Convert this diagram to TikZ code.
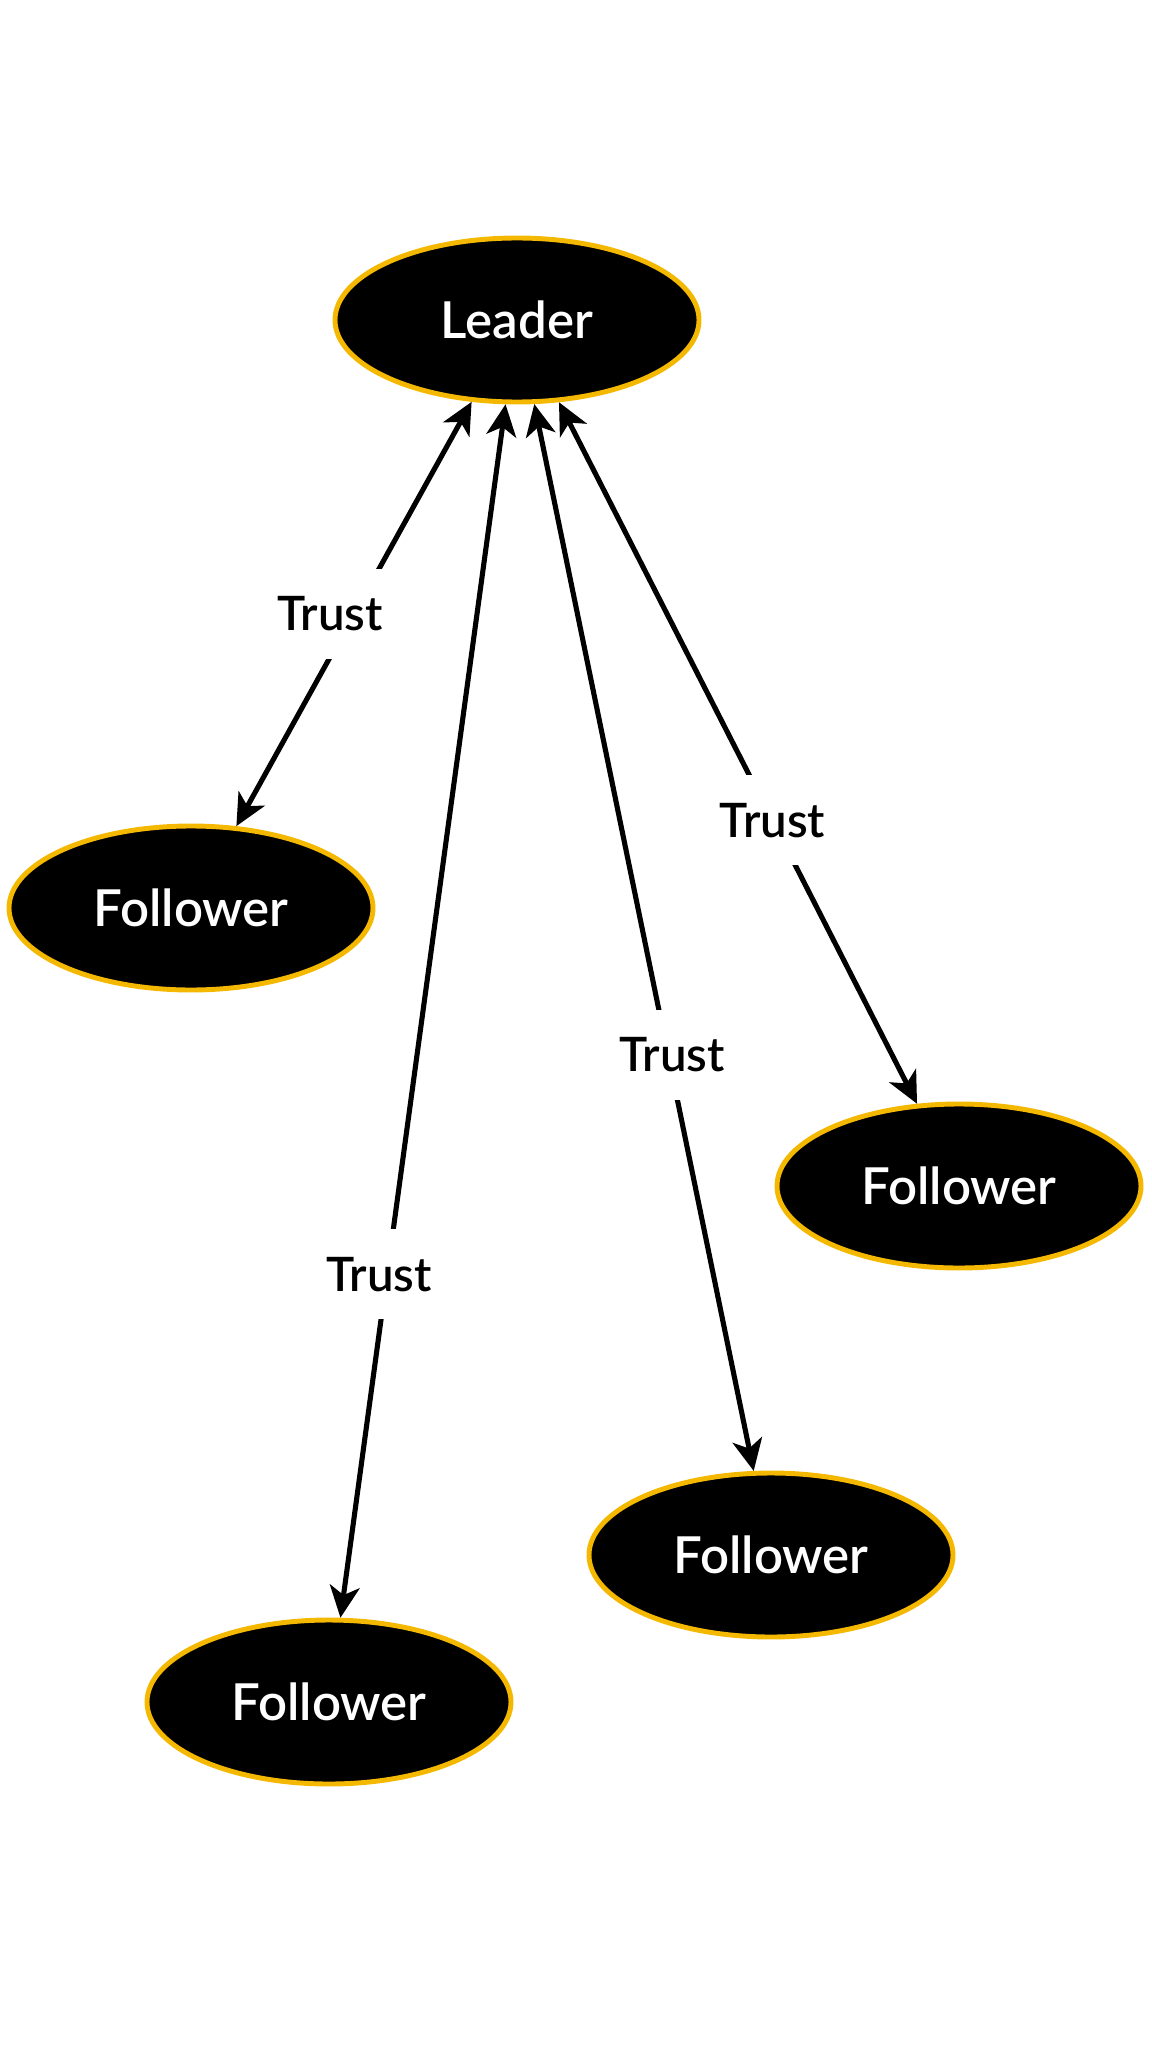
\documentclass[tikz,border=0pt]{standalone}
\usepackage{fontspec}
\IfFontExistsTF{Lato Semibold}{\setmainfont{Lato Semibold}}{\setmainfont{Lato}[FakeBold=2]}
\usetikzlibrary{shapes.geometric,arrows.meta}
\definecolor{gold}{RGB}{245,184,0}
\tikzset{
  role/.style={ellipse, draw=gold, fill=black, line width=1.4pt, text=white,
    minimum width=3.64cm, minimum height=1.64cm, font=\fontsize{14.5}{17}\selectfont},
  trust/.style={fill=white, inner xsep=2pt, minimum height=0.9cm,
    font=\fontsize{13.5}{16}\selectfont},
  tie/.style={line width=1.45pt,
    {Stealth[length=9pt,width=8.5pt,inset=2.5pt]}-{Stealth[length=9pt,width=8.5pt,inset=2.5pt]}}
}
\begin{document}
\begin{tikzpicture}[x=0.1mm,y=-0.1mm]
\useasboundingbox (0,0) rectangle (1152,2048);

\node[role] (leader) at (517,320) {Leader};

\node[role] (f1) at (191,908) {Follower};
\node[role] (f2) at (959,1186) {Follower};
\node[role] (f3) at (771,1555) {Follower};
\node[role] (f4) at (329,1702) {Follower};

\draw[tie] (leader) -- node[trust, pos=0.5, xshift=-0.24cm] {Trust} (f1);
\draw[tie] (leader) -- node[trust, pos=0.717, xshift=-0.08cm] {Trust} (f4);
\draw[tie] (leader) -- node[trust, pos=0.61, xshift=0.04cm] {Trust} (f3);
\draw[tie] (leader) -- node[trust, pos=0.596] {Trust} (f2);
\end{tikzpicture}
\end{document}
